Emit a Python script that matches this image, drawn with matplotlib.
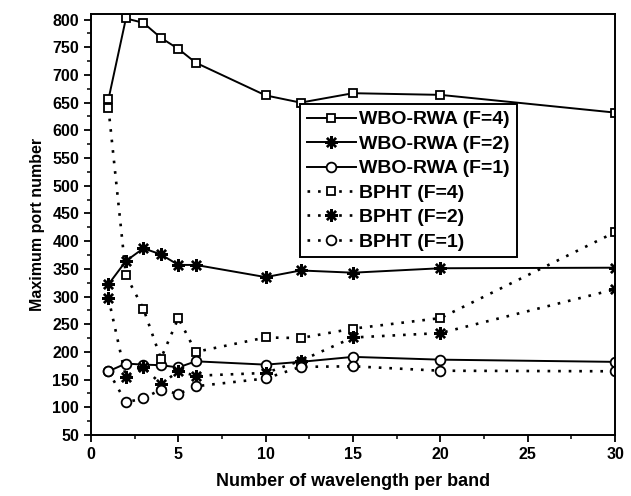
import matplotlib
matplotlib.use("Agg")
import matplotlib.pyplot as plt
from matplotlib.ticker import MultipleLocator

plt.rcParams["font.family"] = ["Liberation Sans", "DejaVu Sans"]

x = [1, 2, 3, 4, 5, 6, 10, 12, 15, 20, 30]
wbo_f4 = [656, 802, 794, 767, 747, 722, 663, 650, 667, 664, 632]
wbo_f2 = [322, 364, 387, 376, 357, 357, 335, 347, 343, 351, 352]
wbo_f1 = [165, 179, 177, 176, 172, 183, 177, 182, 191, 186, 182]
bpht_f4 = [640, 338, 278, 188, 261, 200, 226, 225, 242, 261, 416]
bpht_f2 = [297, 154, 173, 142, 165, 157, 162, 184, 226, 234, 313]
bpht_f1 = [165, 109, 116, 132, 124, 138, 152, 173, 174, 166, 165]

STAR = (8, 2, 0)
series = [
    ("WBO-RWA (F=4)", wbo_f4, "-", "s"),
    ("WBO-RWA (F=2)", wbo_f2, "-", STAR),
    ("WBO-RWA (F=1)", wbo_f1, "-", "o"),
    ("BPHT (F=4)", bpht_f4, (0, (1, 3)), "s"),
    ("BPHT (F=2)", bpht_f2, (0, (1, 3)), STAR),
    ("BPHT (F=1)", bpht_f1, (0, (1, 3)), "o"),
]

fig = plt.figure(figsize=(6.31, 4.96), dpi=100)
ax = fig.add_axes([0.1442, 0.123, 0.8305, 0.8488])

for lab, ys, ls, mk in series:
    lw = 1.4 if ls == "-" else 1.9
    if mk == STAR:
        ms, mew = 9, 1.7
    elif mk == "s":
        ms, mew = 6, 1.3
    else:
        ms, mew = 7, 1.3
    ax.plot(x, ys, linestyle=ls, color="black", lw=lw, marker=mk, markersize=ms,
            markerfacecolor="white", markeredgecolor="black", markeredgewidth=mew,
            label=lab)

ax.set_xlim(0, 30)
ax.set_ylim(50, 810)
ax.xaxis.set_major_locator(MultipleLocator(5))
ax.xaxis.set_minor_locator(MultipleLocator(2.5))
ax.yaxis.set_major_locator(MultipleLocator(50))
ax.yaxis.set_minor_locator(MultipleLocator(25))
ax.tick_params(axis="both", which="major", direction="out", length=5, width=1.3, labelsize=11.5)
ax.tick_params(axis="both", which="minor", direction="out", length=3, width=1.1)
for t in ax.get_xticklabels() + ax.get_yticklabels():
    t.set_fontweight("bold")
for s in ax.spines.values():
    s.set_linewidth(1.4)

ax.set_xlabel("Number of wavelength per band", fontsize=13, fontweight="bold", labelpad=8)
ax.set_ylabel("Maximum port number", fontsize=11.5, fontweight="bold", labelpad=5)

leg = ax.legend(loc="upper left", bbox_to_anchor=(0.399, 0.786),
                prop={"size": 14, "weight": "bold"},
                frameon=True, fancybox=False, edgecolor="black", framealpha=1,
                handlelength=2.5, handletextpad=0.2, borderpad=0.35, labelspacing=0.35,
                borderaxespad=0)
leg.get_frame().set_linewidth(1.4)

fig.savefig("out.png", dpi=100)
